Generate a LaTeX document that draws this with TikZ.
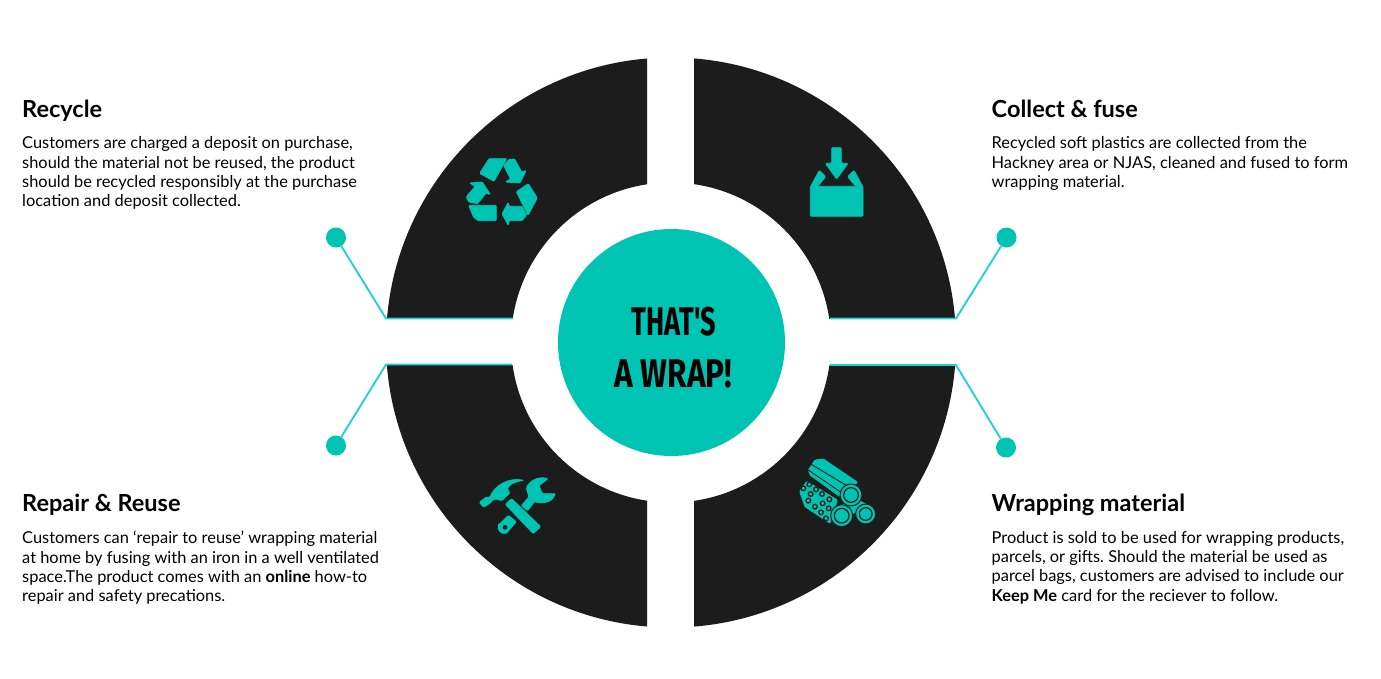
\documentclass[tikz,border=0pt]{standalone}
\usepackage{fontspec}
\setmainfont{Lato}
\newfontfamily\wrapfont{Fira Sans}
\usepackage{xcolor}
\definecolor{ringdark}{HTML}{1C1C1C}
\definecolor{tealfill}{HTML}{00C4B3}
\definecolor{tealline}{HTML}{1FCFD8}
\tikzset{
	headtext/.style={anchor=base west, inner sep=0pt, font=\fontsize{23.5}{26}\selectfont\bfseries},
	bodytext/.style={anchor=north west, inner sep=0pt, align=left, font=\frenchspacing\fontsize{16.4}{19.35}\selectfont},
	wraptext/.style={inner sep=0pt, font=\wrapfont\fontsize{40}{46}\selectfont\bfseries},
	enddot/.style={circle, fill=tealfill, inner sep=0pt, minimum size=20pt},
	leader/.style={tealline, line width=1.8pt},
	icon/.style={fill=tealfill, draw=tealfill, line width=0.8pt, line join=round, rounded corners=1pt},
	iconcut/.style={ringdark, line width=0.9pt}
}
\begin{document}
\begin{tikzpicture}[x=1pt, y=-1pt]
	\useasboundingbox[fill=white] (0, 0) rectangle (1381, 678);
	% ring quarters
	\foreach \xa/\ya/\xb/\yb in {0/0/647/318, 694/0/1381/318, 0/365/647/678, 694/365/1381/678} {
		\begin{scope}
			\clip (\xa, \ya) rectangle (\xb, \yb);
			\fill[ringdark, even odd rule] (671, 342.5) circle[radius=285] (671, 342.5) circle[radius=160];
		\end{scope}
	}
	\node[circle, fill=tealfill, inner sep=0pt, minimum size=227pt] (centre) at (671.5, 342.5) {};
	\node[wraptext, xscale=0.68] (wrapone) at (674, 322) {THAT'S};
	\node[wraptext, xscale=0.79] (wraptwo) at (673.5, 374) {A WRAP!};

	% leaders
	\node[enddot] (dotnw) at (336, 237.5) {};
	\node[enddot] (dotne) at (1006.5, 237.5) {};
	\node[enddot] (dotsw) at (336, 445.5) {};
	\node[enddot] (dotse) at (1006, 447.5) {};
	\coordinate (kneenw) at (386, 318.5);
	\coordinate (kneene) at (956, 318.5);
	\coordinate (kneesw) at (386, 364.5);
	\coordinate (kneese) at (956, 365);
	\coordinate (endnw) at (513, 318.5);
	\coordinate (endne) at (830, 318.5);
	\coordinate (endsw) at (512, 364.5);
	\coordinate (endse) at (830, 365);
	\draw[leader] (dotnw) -- (kneenw) -- (endnw);
	\draw[leader] (dotne) -- (kneene) -- (endne);
	\draw[leader] (dotsw) -- (kneesw) -- (endsw);
	\draw[leader] (dotse) -- (kneese) -- (endse);

	% texts
	\node[headtext] (recycle) at (22, 117) {Recycle};
	\node[bodytext] (recycletext) at (22, 136.5) {Customers are charged a deposit on purchase,\\should the material not be reused, the product\\should be recycled responsibly at the purchase\\location and deposit collected.};
	\node[headtext] (collect) at (991.5, 117) {Collect \& fuse};
	\node[bodytext] (collecttext) at (991.5, 136.5) {Recycled soft plastics are collected from the\\Hackney area or NJAS, cleaned and fused to form\\wrapping material.};
	\node[headtext] (repair) at (22, 511.5) {Repair \& Reuse};
	\node[bodytext] (repairtext) at (22, 531) {Customers can ‘repair to reuse’ wrapping material\\at home by fusing with an iron in a well ventilated\\space.The product comes with an \textbf{online} how-to\\repair and safety precations.};
	\node[headtext] (material) at (991.5, 511.5) {Wrapping material};
	\node[bodytext] (materialtext) at (991.5, 531) {Product is sold to be used for wrapping products,\\parcels, or gifts. Should the material be used as\\parcel bags, customers are advised to include our\\\textbf{Keep Me} card for the reciever to follow.};

	% recycle icon
	\begin{scope}[shift={(440, 140)}, scale=1/3]
		\filldraw[icon] (147,56) -- (200,56) -- (162,124) -- (119,100) -- cycle;
		\filldraw[icon] (191,77) -- (207,58) -- (224,57) -- (245,96) -- (259,91) -- (240,129) -- (196,126) -- (212,117) -- cycle;
		\filldraw[icon] (229,155) -- (265,131) -- (292,174) -- (264,226) -- cycle;
		\filldraw[icon] (205,187) -- (207,199) -- (246,199) -- (260,226) -- (246,242) -- (207,242) -- (205,256) -- (186,222) -- cycle;
		\filldraw[icon] (86,196) -- (169,196) -- (169,242) -- (115,242) -- (101,232) -- cycle;
		\filldraw[icon] (89,129) -- (127,126) -- (151,164) -- (138,159) -- (113,191) -- (86,186) -- (79,170) -- (106,139) -- cycle;
	\end{scope}

	% inbox icon
	\begin{scope}[shift={(790, 135)}, scale=1/3]
		\filldraw[icon] (125,38) -- (154,38) -- (154,85) -- (174,85) -- (140,132) -- (106,85) -- (125,85) -- cycle;
		\filldraw[icon] (61,154) -- (219,154) -- (219,244) -- (61,244) -- cycle;
		\filldraw[icon] (61,156) -- (88,106) -- (107,125) -- (84,153) -- cycle;
		\filldraw[icon] (219,156) -- (192,106) -- (173,125) -- (196,153) -- cycle;
	\end{scope}

	% tools icon
	\begin{scope}[shift={(465, 465)}, scale=1/3]
		\filldraw[icon] (43,112) -- (64,96) -- (74,98) .. controls (88,62) and (130,36) .. (177,46) .. controls (150,50) and (132,58) .. (128,72) -- (134,85) -- (110,107) -- (95,102) -- (82,105) -- (78,112) -- (56,127) -- cycle;
		\filldraw[icon] (169,122) -- (192,95) -- (184,70) .. controls (192,48) and (220,33) .. (249,41) -- (222,62) -- (232,86) -- (271,86) .. controls (264,108) and (240,118) .. (208,110) -- (188,137) -- cycle;
		\filldraw[icon] (101,180) -- (130,151) -- (154,170) -- (125,204) .. controls (110,209) and (96,195) .. (101,180) -- cycle;
		\filldraw[icon] (121,118) -- (140,101) -- (227,185) -- (205,206) -- cycle;
		\fill[ringdark] (120,187) circle[radius=7];
	\end{scope}

	% rolls icon
	\begin{scope}[shift={(790, 450)}, scale=1/3]
		\filldraw[icon] (29,125) -- (50,94) -- (142,150) -- (120,220) -- (45,170) -- cycle;
		\foreach \px/\py in {40/115, 58/103, 62/132, 78/118, 96/132, 55/152, 75/170, 98/160, 118/148, 93/187, 116/175, 108/205} {
			\draw[iconcut, line width=1.3pt] (\px, \py) circle[radius=7];
		}
		\filldraw[icon] (150,165) -- (205,150) -- (232,165) -- (165,205) -- (125,210) -- cycle;
		\filldraw[icon] (55,60) -- (75,30) -- (100,27) -- (203,97) -- (150,140) -- (60,75) -- cycle;
		\draw[iconcut] (62,42) -- (172,108);
		\draw[iconcut] (55,60) -- (150,125);
		\foreach \px/\py/\pr in {227/192/30, 155/197/33, 183/135/33} {
			\filldraw[icon, draw=ringdark, line width=1pt] (\px, \py) circle[radius=\pr];
			\draw[iconcut, line width=1.2pt] (\px, \py) circle[radius=\pr-11];
		}
	\end{scope}
\end{tikzpicture}
\end{document}
